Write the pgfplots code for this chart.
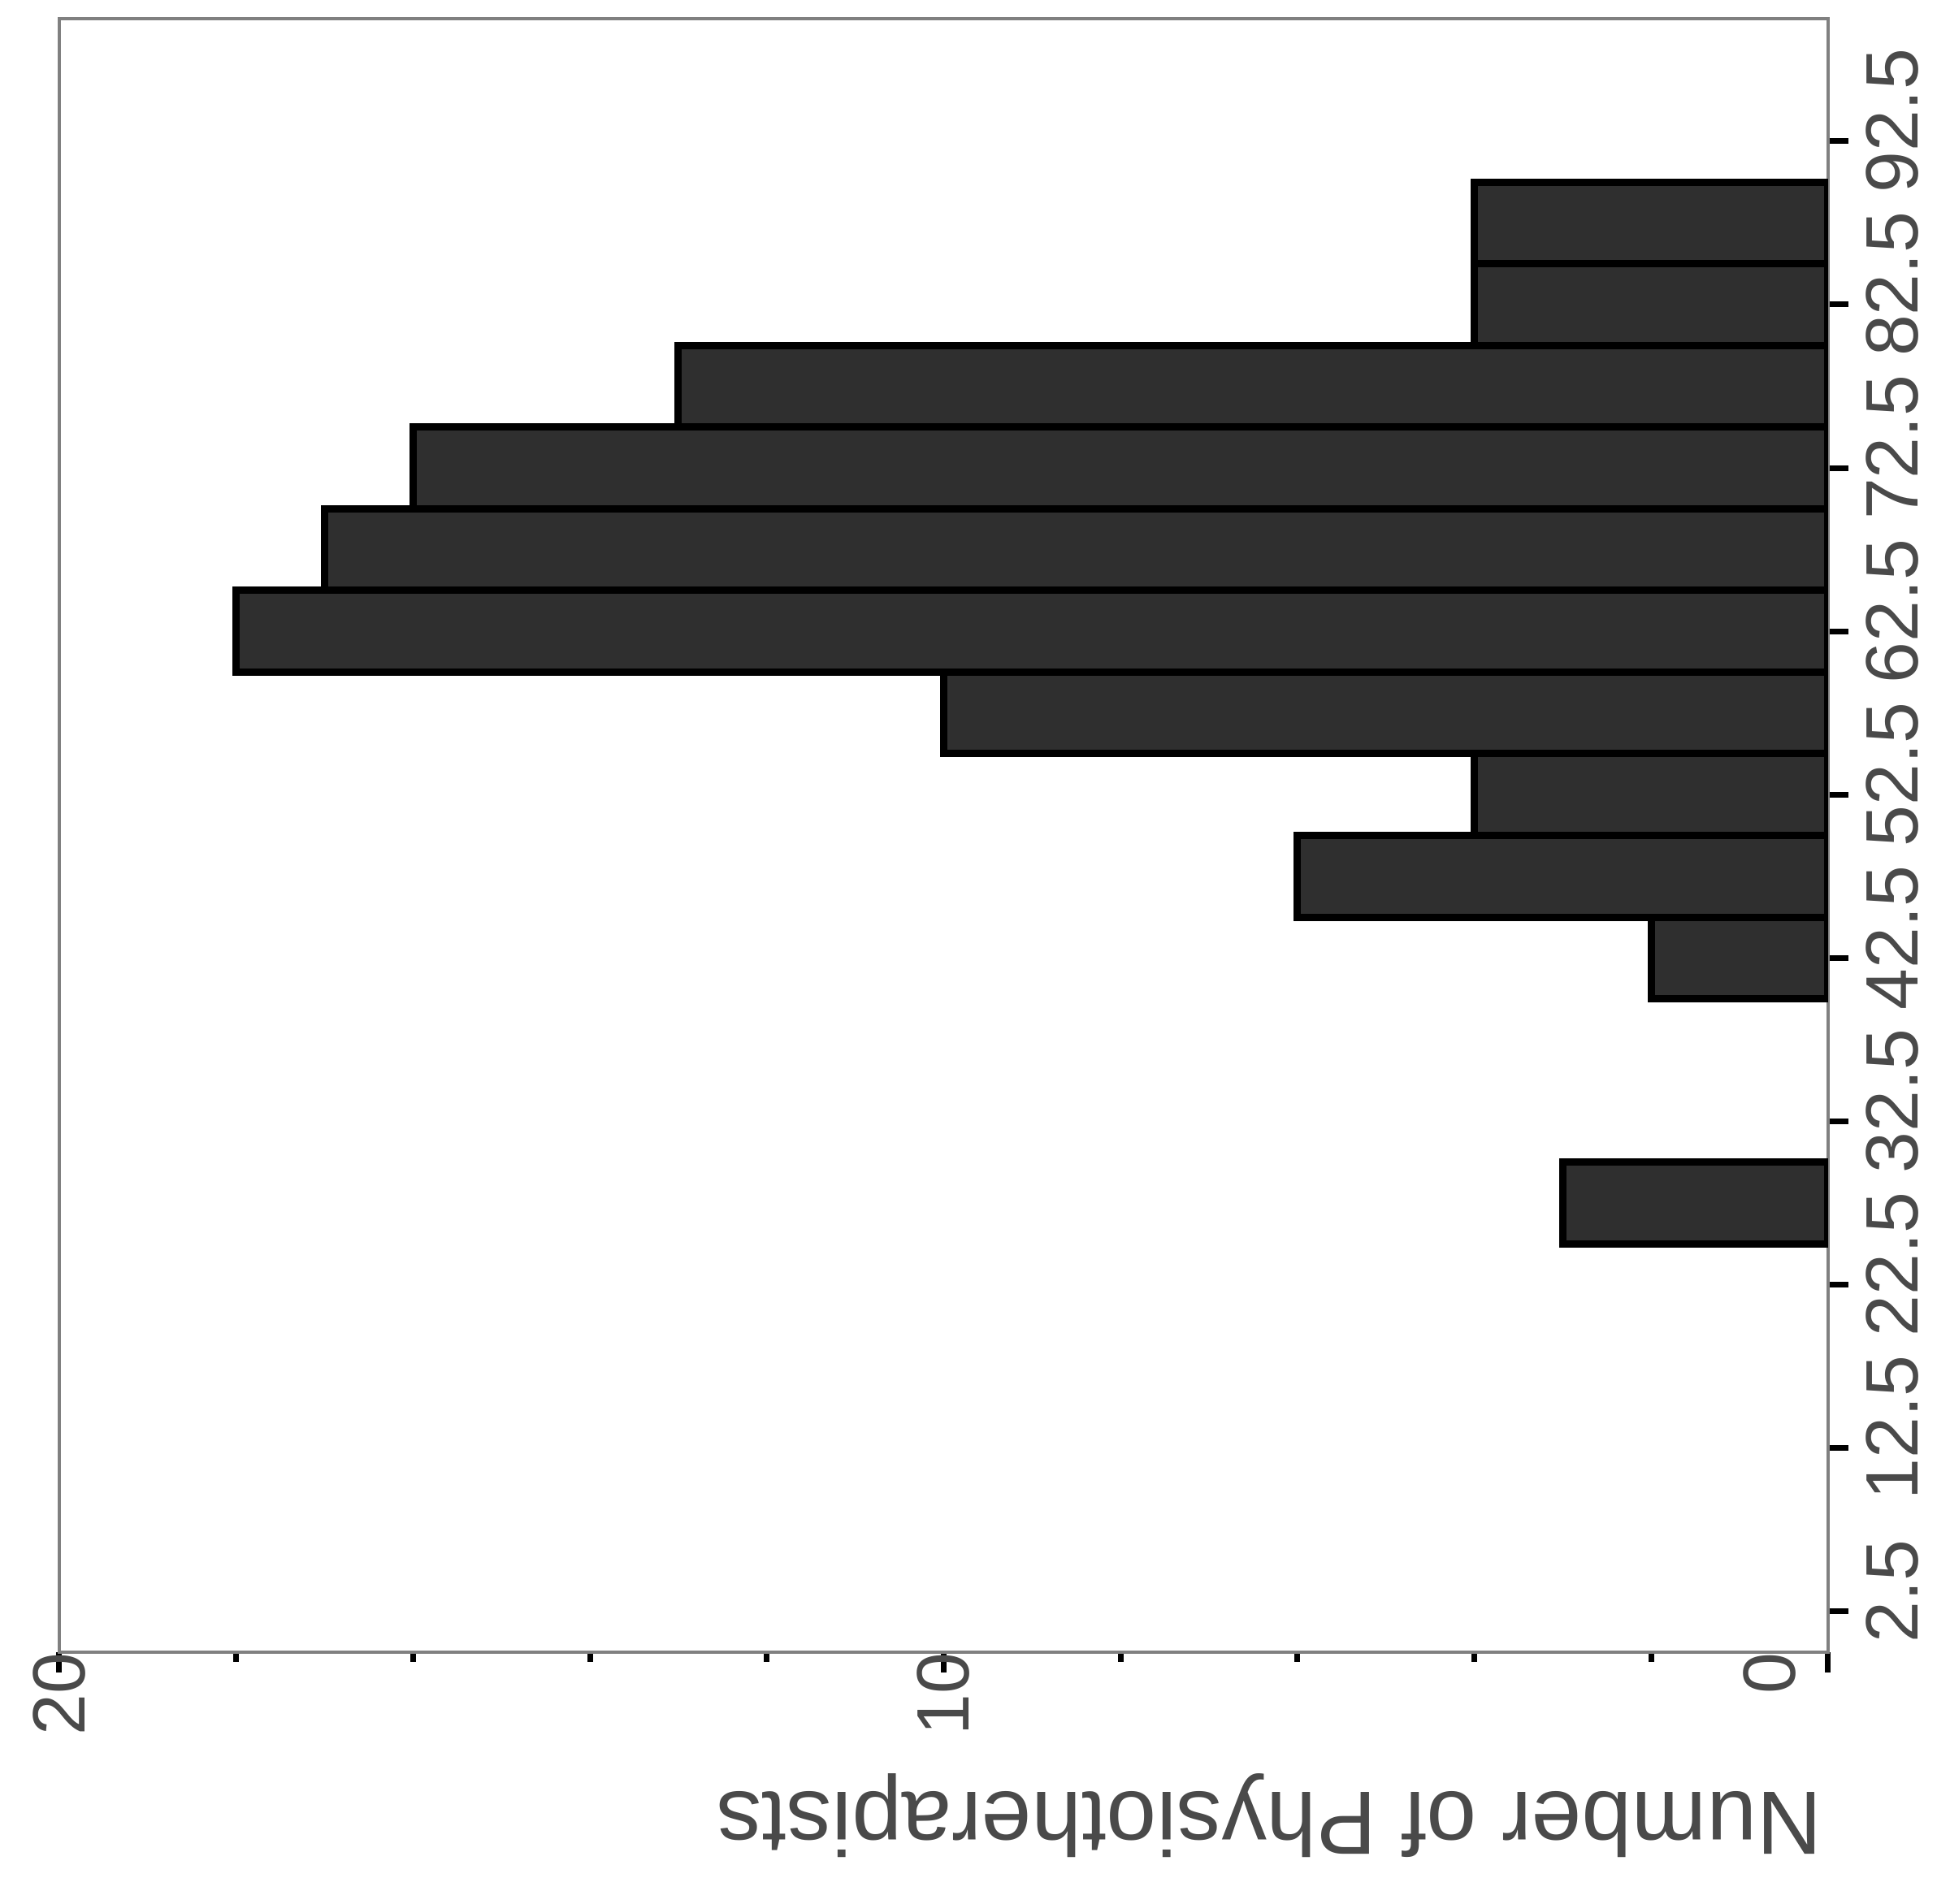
\documentclass[border=0pt]{standalone}
\usepackage{pgfplots}
\pgfplotsset{compat=1.18}
\usepackage{fontspec}
\setmainfont{Liberation Sans}
\definecolor{barfill}{HTML}{2F2F2F}
\definecolor{axgray}{HTML}{808080}
\definecolor{txt}{HTML}{4A4A4A}
\begin{document}
\begin{tikzpicture}
\begin{axis}[
  scale only axis, width=217.7mm, height=201.1mm,
  xmin=0, xmax=20, ymin=0, ymax=100,
  x dir=reverse,
  axis line style={axgray, line width=0.45mm},
  xtick={0,10,20}, minor xtick={2,4,6,8,12,14,16,18},
  xticklabels={{\vphantom{0}\smash{\raisebox{7.2mm}{0}}},10,20},
  ytick={2.5,12.5,22.5,32.5,42.5,52.5,62.5,72.5,82.5,92.5},
  yticklabels={2.5,12.5,22.5,32.5,42.5,52.5,62.5,72.5,82.5,92.5},
  tick align=outside,
  xtick pos=left, ytick pos=right,
  yticklabel pos=right,
  major tick length=2.5mm, minor tick length=1.2mm,
  tick style={black, line width=0.7mm},
  every tick label/.append style={font=\fontsize{26}{26}\selectfont, text=txt, inner sep=0pt},
  xticklabel style={rotate=90, anchor=east},
  xticklabel shift=-2.5mm,
  yticklabel style={rotate=90, anchor=north, xshift=2.5mm},
  yticklabel shift=2.1mm,
  /pgf/number format/assume math mode=true,
  xlabel={Number of Physiotherapists},
  xlabel style={at={(axis description cs:0.684,-0.1)}, anchor=center, rotate=180, font=\fontsize{31.5}{32}\selectfont, text=txt},
]
\addplot[xbar, bar width=5, bar shift=0pt, fill=barfill, draw=black, line width=0.9mm] coordinates {
(3,27.5) (2,42.5) (6,47.5) (4,52.5) (10,57.5) (18,62.5) (17,67.5) (16,72.5) (13,77.5) (4,82.5) (4,87.5)
};
\end{axis}
\path ([shift={(-7.3mm,-31mm)}]current axis.south west) rectangle ([shift={(13.4mm,2.3mm)}]current axis.north east);
\end{tikzpicture}
\end{document}
